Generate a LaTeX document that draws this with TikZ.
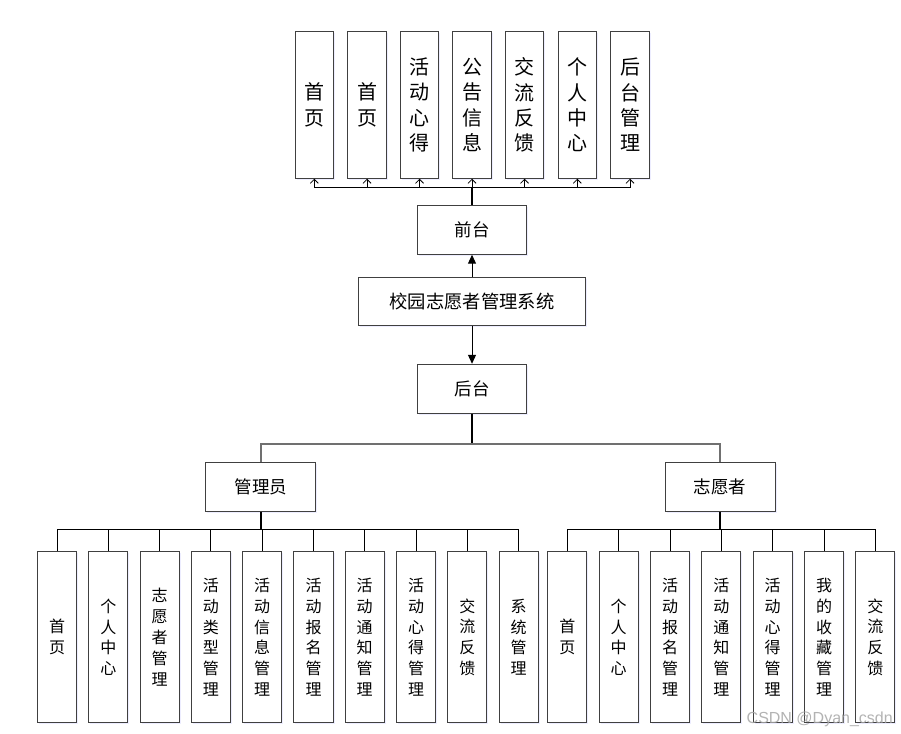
\documentclass[tikz,border=0pt]{standalone}
\usepackage{fontspec}
\newfontfamily\cjk{Noto Sans CJK SC}
\newfontfamily\wmfont{Liberation Sans}
\usetikzlibrary{arrows.meta,shadows}
\definecolor{boxline}{HTML}{404040}
\definecolor{busgray}{HTML}{707070}
\begin{document}
\begin{tikzpicture}[x=1pt,y=-1pt,
  base/.style={draw=boxline,line width=1pt,fill=white,inner sep=0pt,align=center,
    drop shadow={shadow xshift=1.5pt,shadow yshift=-1.5pt,fill=blue!20,opacity=0.35}},
  topbox/.style={base,minimum width=38.5pt,minimum height=146.5pt,font=\cjk\fontsize{20}{25.3}\selectfont},
  botbox/.style={base,minimum width=39.3pt,minimum height=171pt,font=\cjk\fontsize{16}{20.8}\selectfont},
  midbox/.style={base,minimum width=109.3pt,minimum height=49pt,font=\cjk\fontsize{17.5}{20}\selectfont},
  bus/.style={line width=1pt,draw=black},
  openarrow/.style={bus,-{Straight Barb[length=4pt,width=8pt,line width=0.8pt]}},
  solidarrow/.style={line width=1pt,-{Triangle[length=9pt,width=8pt]}},
  watermark/.style={font=\wmfont\fontsize{16}{18}\selectfont,text=gray!70,opacity=0.85,inner sep=0pt},
]
\useasboundingbox (0,0) rectangle (901,733);
% top boxes
\node[topbox] (t1) at (314.3,105) {首\\页};
\node[topbox] (t2) at (367,105) {首\\页};
\node[topbox] (t3) at (419.5,105) {活\\动\\心\\得};
\node[topbox] (t4) at (472,105) {公\\告\\信\\息};
\node[topbox] (t5) at (524.5,105) {交\\流\\反\\馈};
\node[topbox] (t6) at (577.3,105) {个\\人\\中\\心};
\node[topbox] (t7) at (630,105) {后\\台\\管\\理};
% middle
\node[midbox] (qt) at (472,229.7) {前台};
\node[midbox,minimum width=227.7pt,minimum height=48.3pt,font=\cjk\fontsize{18.3}{20}\selectfont] (sys) at (472,301.8) {校园志愿者管理系统};
\node[midbox] (ht) at (472,388.8) {后台};
\node[midbox,minimum width=110.3pt] (adm) at (260.8,486.7) {管理员};
\node[midbox,minimum width=110.3pt] (vol) at (720.2,486.7) {志愿者};
% admin boxes
\node[botbox] (a1) at (57,637.2) {首\\页};
\node[botbox] (a2) at (108.3,637.2) {个\\人\\中\\心};
\node[botbox] (a3) at (159.7,637.2) {志\\愿\\者\\管\\理};
\node[botbox] (a4) at (210.8,637.2) {活\\动\\类\\型\\管\\理};
\node[botbox] (a5) at (262,637.2) {活\\动\\信\\息\\管\\理};
\node[botbox] (a6) at (313.5,637.2) {活\\动\\报\\名\\管\\理};
\node[botbox] (a7) at (364.7,637.2) {活\\动\\通\\知\\管\\理};
\node[botbox] (a8) at (416,637.2) {活\\动\\心\\得\\管\\理};
\node[botbox] (a9) at (467.3,637.2) {交\\流\\反\\馈};
\node[botbox] (a10) at (518.7,637.2) {系\\统\\管\\理};
% volunteer boxes
\node[botbox] (v1) at (567.3,637.2) {首\\页};
\node[botbox] (v2) at (618.7,637.2) {个\\人\\中\\心};
\node[botbox] (v3) at (670,637.2) {活\\动\\报\\名\\管\\理};
\node[botbox] (v4) at (721.3,637.2) {活\\动\\通\\知\\管\\理};
\node[botbox] (v5) at (772.7,637.2) {活\\动\\心\\得\\管\\理};
\node[botbox] (v6) at (824,637.2) {我\\的\\收\\藏\\管\\理};
\node[botbox] (v7) at (875.3,637.2) {交\\流\\反\\馈};
% bus coordinates
\coordinate (tb) at (472,187.3);
\coordinate (hb) at (472,443.8);
\coordinate (ab) at (260.8,529.3);
\coordinate (vb) at (720.2,529.3);
% top connectors
\draw[line width=2pt] (qt.north) -- (tb);
\foreach \i in {1,...,7} \draw[openarrow] (tb) -| (t\i.south);
\draw[solidarrow] (sys.north) -- (qt.south);
\draw[solidarrow] (sys.south) -- (ht.north);
% backend branch
\draw[line width=1.2pt] (ht.south) -- (hb);
\draw[line width=1.8pt,draw=busgray] (hb) -| (adm.north);
\draw[line width=1.8pt,draw=busgray] (hb) -| (vol.north);
\draw[line width=2pt] (adm.south) -- (ab);
\draw[line width=2pt] (vol.south) -- (vb);
\foreach \i in {1,...,10} \draw[bus] (ab) -| (a\i.north);
\foreach \i in {1,...,7} \draw[bus] (vb) -| (v\i.north);
% watermark
\node[watermark,anchor=base west] (wm) at (746.5,723.5) {CSDN @Dyan\_csdn};
\end{tikzpicture}
\end{document}
